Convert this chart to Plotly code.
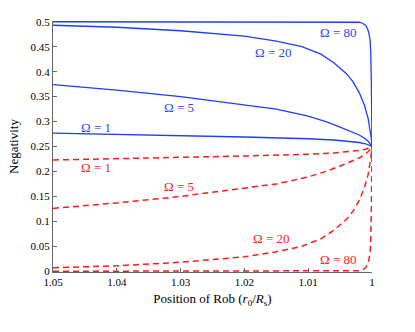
import plotly.graph_objects as go

# blue (solid) curves, one x list per curve
x_b1 = [1.05, 1.04, 1.03, 1.02, 1.01, 1.006, 1.002, 1.001, 1.0]
y_b1 = [0.277, 0.2745, 0.272, 0.269, 0.2655, 0.263, 0.258, 0.2555, 0.25]

x_b5 = [1.05, 1.04, 1.03, 1.02, 1.015, 1.01, 1.007, 1.005, 1.003, 1.002, 1.001, 1.0005, 1.0]
y_b5 = [0.374, 0.363, 0.35, 0.334, 0.325, 0.311, 0.299, 0.289, 0.279, 0.273, 0.265, 0.259, 0.25]

x_b20 = [1.05, 1.04, 1.03, 1.025, 1.02, 1.015, 1.011, 1.008, 1.006, 1.004, 1.003, 1.002,
         1.0012, 1.0006, 1.0003, 1.0001, 1.0]
y_b20 = [0.493, 0.489, 0.482, 0.477, 0.471, 0.461, 0.450, 0.435, 0.418, 0.396, 0.380, 0.358,
         0.333, 0.306, 0.285, 0.265, 0.25]

x_b80 = [1.05, 1.01, 1.005, 1.003, 1.002, 1.0015, 1.001, 1.0007, 1.0005, 1.0003, 1.0002, 1.0001, 1.0]
y_b80 = [0.5, 0.5, 0.5, 0.4995, 0.499, 0.497, 0.493, 0.486, 0.478, 0.463, 0.44, 0.38, 0.25]

# red (dashed) curves
y_r1 = [0.223, 0.2255, 0.228, 0.231, 0.2345, 0.237, 0.242, 0.2445, 0.25]
y_r5 = [0.126, 0.137, 0.15, 0.166, 0.175, 0.189, 0.201, 0.211, 0.221, 0.227, 0.235, 0.241, 0.25]
y_r20 = [0.007, 0.011, 0.018, 0.023, 0.029, 0.039, 0.050, 0.065, 0.082, 0.104, 0.120, 0.142,
         0.167, 0.194, 0.215, 0.235, 0.25]
y_r80 = [0.0, 0.0, 0.0, 0.0005, 0.001, 0.003, 0.007, 0.014, 0.022, 0.037, 0.06, 0.12, 0.25]

x_ticks = [1.05, 1.04, 1.03, 1.02, 1.01, 1.0]
x_ticklabels = ["1.05", "1.04", "1.03", "1.02", "1.01", "1"]
y_ticks = [0, 0.05, 0.1, 0.15, 0.2, 0.25, 0.3, 0.35, 0.4, 0.45, 0.5]
y_ticklabels = ["0", "0.05", "0.1", "0.15", "0.2", "0.25", "0.3", "0.35", "0.4", "0.45", "0.5"]

# label text and where it sits (data coords)
labels = ["Ω = 80", "Ω = 20", "Ω = 5", "Ω = 1", "Ω = 1", "Ω = 5", "Ω = 20", "Ω = 80"]
label_x = [1.0053, 1.0155, 1.0302, 1.0433, 1.0433, 1.0302, 1.0157, 1.0053]
label_y = [0.478, 0.438, 0.329, 0.288, 0.207, 0.169, 0.066, 0.024]
label_col = ["#2a44ff"] * 4 + ["#ff2020"] * 4

BLUE = "#1f3dff"
RED = "#ff1a1a"
FONT = "Liberation Serif, DejaVu Serif, serif"

fig = go.Figure()
for xs, ys in [(x_b1, y_b1), (x_b5, y_b5), (x_b20, y_b20), (x_b80, y_b80)]:
    fig.add_trace(go.Scatter(x=xs, y=ys, mode="lines",
                             line=dict(color=BLUE, width=1.3), hoverinfo="skip"))
for xs, ys in [(x_b1, y_r1), (x_b5, y_r5), (x_b20, y_r20), (x_b80, y_r80)]:
    fig.add_trace(go.Scatter(x=xs, y=ys, mode="lines",
                             line=dict(color=RED, width=1.5, dash="6px,4px"), hoverinfo="skip"))

for t, lx, ly, c in zip(labels, label_x, label_y, label_col):
    fig.add_annotation(x=lx, y=ly, text=t, showarrow=False,
                       font=dict(family=FONT, size=13, color=c))

fig.update_layout(
    width=415, height=332,
    margin=dict(l=53, r=43, t=21, b=60),
    paper_bgcolor="white", plot_bgcolor="white",
    showlegend=False,
    font=dict(family=FONT, size=11, color="black"),
)
fig.update_xaxes(
    range=[1.05, 1.0], tickvals=x_ticks, ticktext=x_ticklabels,
    showline=True, linecolor="#666", linewidth=1, mirror=False,
    ticks="inside", ticklen=4, tickcolor="#666", showgrid=False, zeroline=False,
    title=dict(text="Position of Rob (<i>r</i><sub>0</sub>/<i>R</i><sub>s</sub>)",
               font=dict(family=FONT, size=13), standoff=6),
)
fig.update_yaxes(
    range=[-0.0015, 0.5015], tickvals=y_ticks, ticktext=y_ticklabels,
    showline=True, linecolor="#666", linewidth=1, mirror=False,
    ticks="inside", ticklen=4, tickcolor="#666", showgrid=False, zeroline=False,
    title=dict(text="Negativity", font=dict(family=FONT, size=13), standoff=8),
)

# page body has a default 8px margin; drop it so the figure sits at the corner
fig.write_html("out.html", config={"displayModeBar": False},
               post_script="document.body.style.margin='0';")
